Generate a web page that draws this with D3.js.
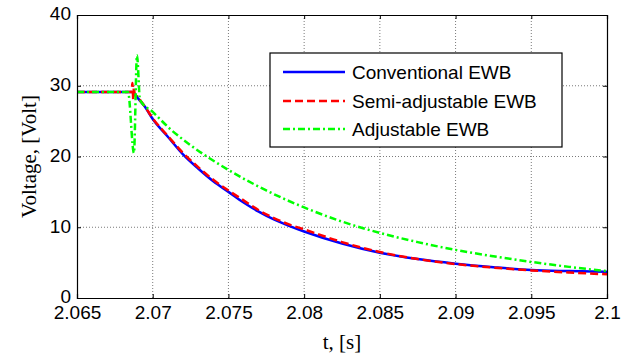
<!DOCTYPE html>
<html><head><meta charset="utf-8">
<script src="https://cdn.jsdelivr.net/npm/d3@7/dist/d3.min.js"></script>
<style>body{margin:0;background:#fff;} svg{display:block;}</style>
</head><body>
<svg id="chart" width="631" height="360"></svg>
<script>
const xTicks = [2.065, 2.07, 2.075, 2.08, 2.085, 2.09, 2.095, 2.1];
const xTickLabels = ["2.065", "2.07", "2.075", "2.08", "2.085", "2.09", "2.095", "2.1"];
const yTicks = [0, 10, 20, 30, 40];
const seriesNames = ["Conventional EWB", "Semi-adjustable EWB", "Adjustable EWB"];

const conventional = [
  [2.065, 29.1], [2.0686, 29.1], [2.0688, 28.9], [2.069, 28.3], [2.0695, 27.0],
  [2.070, 25.3], [2.071, 22.8], [2.072, 20.3], [2.073, 18.3], [2.074, 16.5],
  [2.075, 15.0], [2.076, 13.5], [2.077, 12.2], [2.078, 11.1], [2.079, 10.2],
  [2.080, 9.4], [2.0825, 7.7], [2.085, 6.4], [2.0875, 5.5], [2.090, 4.85],
  [2.0925, 4.35], [2.095, 3.95], [2.0975, 3.8], [2.1, 3.7]
];
const semiAdjustable = [
  [2.065, 29.1], [2.0686, 29.1], [2.06866, 30.4], [2.06872, 28.0], [2.06876, 29.8],
  [2.0688, 28.9], [2.069, 28.4], [2.0695, 27.0], [2.070, 25.4], [2.071, 22.9],
  [2.072, 20.5], [2.073, 18.5], [2.074, 16.7], [2.075, 15.2], [2.076, 13.8],
  [2.077, 12.4], [2.078, 11.3], [2.079, 10.4], [2.080, 9.7], [2.0825, 7.9],
  [2.085, 6.5], [2.0875, 5.5], [2.090, 4.8], [2.0925, 4.3], [2.095, 3.9],
  [2.0975, 3.6], [2.1, 3.35]
];
const adjustable = [
  [2.065, 29.1], [2.06837, 29.1], [2.06876, 20.5], [2.06896, 34.3], [2.06916, 28.0],
  [2.0700, 26.3], [2.0712, 23.8], [2.0725, 21.6], [2.075, 18.1], [2.0775, 15.2],
  [2.080, 12.8], [2.0825, 10.8], [2.085, 9.2], [2.0875, 7.9], [2.090, 6.8],
  [2.0925, 5.9], [2.095, 5.1], [2.0975, 4.4], [2.1, 3.8]
];

const colors = ["#0000ff", "#ff0000", "#00ff00"];
const dashes = [null, "8,4", "7,3,2,3"];
const allData = [conventional, semiAdjustable, adjustable];

const svg = d3.select("#chart");
const m = {left: 77, right: 607, top: 15, bottom: 298};
const x = d3.scaleLinear().domain([2.065, 2.1]).range([m.left, m.right]);
const y = d3.scaleLinear().domain([0, 40]).range([m.bottom, m.top]);

// grid
const grid = svg.append("g");
grid.selectAll("line.vx").data(xTicks.slice(1, -1)).enter().append("line")
  .attr("x1", d => x(d)).attr("x2", d => x(d)).attr("y1", m.top).attr("y2", m.bottom)
  .attr("stroke", "#7a7a7a").attr("stroke-width", 1).attr("stroke-dasharray", "1,2");
grid.selectAll("line.hy").data(yTicks.slice(1, -1)).enter().append("line")
  .attr("y1", d => y(d)).attr("y2", d => y(d)).attr("x1", m.left).attr("x2", m.right)
  .attr("stroke", "#7a7a7a").attr("stroke-width", 1).attr("stroke-dasharray", "1,2");

// lines
const line = d3.line().x(d => x(d[0])).y(d => y(d[1])).curve(d3.curveMonotoneX);
allData.forEach((data, i) => {
  svg.append("path").datum(data).attr("d", line)
    .attr("fill", "none").attr("stroke", colors[i]).attr("stroke-width", 2.5)
    .attr("stroke-dasharray", dashes[i]).attr("stroke-linejoin", "round");
});

// axes (inward ticks, box)
const font = "'Liberation Sans', Arial, sans-serif";
const xAxisB = d3.axisBottom(x).tickValues(xTicks).tickSize(-4).tickFormat((d, i) => xTickLabels[i]);
const gxb = svg.append("g").attr("transform", `translate(0,${m.bottom})`).call(xAxisB);
const xAxisT = d3.axisTop(x).tickValues(xTicks).tickSize(-4).tickFormat("");
const gxt = svg.append("g").attr("transform", `translate(0,${m.top})`).call(xAxisT);
const yAxisL = d3.axisLeft(y).tickValues(yTicks).tickSize(-4).tickFormat(d3.format("d"));
const gyl = svg.append("g").attr("transform", `translate(${m.left},0)`).call(yAxisL);
const yAxisR = d3.axisRight(y).tickValues(yTicks).tickSize(-4).tickFormat("");
const gyr = svg.append("g").attr("transform", `translate(${m.right},0)`).call(yAxisR);
[gxb, gxt, gyl, gyr].forEach(g => {
  g.selectAll(".domain").attr("stroke", "#000").attr("stroke-width", 1.2);
  g.selectAll(".tick line").attr("stroke", "#000");
  g.selectAll("text").attr("fill", "#000").style("font-family", font).style("font-size", "19px");
});
gxb.selectAll("text").attr("y", 8).attr("dy", "0.71em");
gyl.selectAll("text").attr("x", -6).attr("dy", "0.25em");

// axis titles
svg.append("text").attr("x", (m.left + m.right) / 2).attr("y", 349)
  .attr("text-anchor", "middle").style("font-family", "'Liberation Serif', 'Times New Roman', serif")
  .style("font-size", "21px").text("t, [s]");
svg.append("text").attr("transform", `translate(36,${(m.top + m.bottom) / 2}) rotate(-90)`)
  .attr("text-anchor", "middle").style("font-family", "'Liberation Serif', 'Times New Roman', serif")
  .style("font-size", "21px").text("Voltage, [Volt]");

// legend
const lg = svg.append("g");
lg.append("rect").attr("x", 270).attr("y", 53).attr("width", 292).attr("height", 94)
  .attr("fill", "#fff").attr("stroke", "#000").attr("stroke-width", 1.2);
const rowY = [72, 101, 129];
seriesNames.forEach((name, i) => {
  lg.append("line").attr("x1", 283).attr("x2", 345).attr("y1", rowY[i]).attr("y2", rowY[i])
    .attr("stroke", colors[i]).attr("stroke-width", 2.5).attr("stroke-dasharray", dashes[i]);
  lg.append("text").attr("x", 352).attr("y", rowY[i]).attr("dy", "0.35em")
    .style("font-family", font).style("font-size", "19px").text(name);
});
</script>
</body></html>
